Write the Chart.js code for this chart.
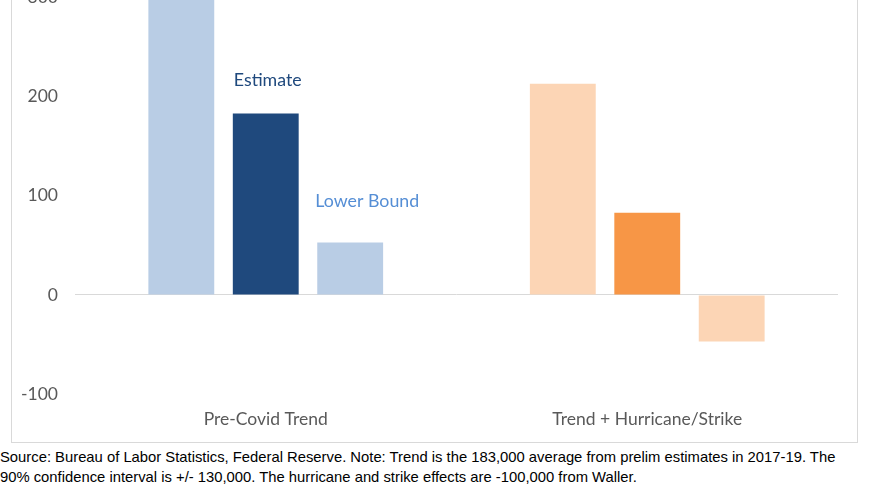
<!DOCTYPE html>
<html>
<head>
<meta charset="utf-8">
<script src="https://cdn.jsdelivr.net/npm/chart.js@4"></script>
<style>
  html, body { margin: 0; padding: 0; background: #fff; width: 870px; height: 492px; overflow: hidden; position: relative; }
  #box { position: absolute; left: 11px; top: -130px; width: 845px; height: 571px; border: 1px solid #D9D9D9; }
  #note { position: absolute; left: 0; top: 447px; width: 870px; font-family: "Liberation Sans", Arial, sans-serif; font-size: 14.8px; line-height: 20px; color: #000; white-space: nowrap; }
</style>
</head>
<body>
<div id="box"><canvas id="c"></canvas></div>
<div id="note">Source: Bureau of Labor Statistics, Federal Reserve. Note: Trend is the 183,000 average from prelim estimates in 2017-19. The<br>90% confidence interval is +/- 130,000. The hurricane and strike effects are -100,000 from Waller.</div>
<script>
const categories = ['Pre-Covid Trend', 'Trend + Hurricane/Strike'];
const upperBound = [313, 213];
const estimate = [183, 83];
const lowerBound = [53, -47];
const yTicks = [-100, 0, 100, 200, 300, 400];

const lightColors = ['#B9CDE5', '#FCD5B5'];
const darkColors = ['#1F497D', '#F79646'];

const notes = {
  id: 'notes',
  afterDatasetsDraw(chart) {
    const ctx = chart.ctx;
    ctx.save();
    ctx.font = '17.8px Lato, "Open Sans", sans-serif';
    ctx.textAlign = 'left';
    ctx.textBaseline = 'middle';
    const est = chart.getDatasetMeta(1).data[0];
    ctx.fillStyle = '#1F497D';
    ctx.fillText('Estimate', est.x - est.width / 2 + 1, est.y - 33);
    const low = chart.getDatasetMeta(2).data[0];
    ctx.fillStyle = '#558ED5';
    ctx.fillText('Lower Bound', low.x - low.width / 2 - 2, low.y - 41);
    ctx.restore();
  }
};

new Chart(document.getElementById('c'), {
  type: 'bar',
  data: {
    labels: categories,
    datasets: [
      { label: 'Upper Bound', data: upperBound, backgroundColor: lightColors },
      { label: 'Estimate', data: estimate, backgroundColor: darkColors },
      { label: 'Lower Bound', data: lowerBound, backgroundColor: lightColors }
    ]
  },
  options: {
    responsive: true,
    maintainAspectRatio: false,
    animation: false,
    categoryPercentage: 0.664,
    barPercentage: 0.78,
    layout: { padding: { top: 16, right: 19, left: 0, bottom: 0 } },
    plugins: { legend: { display: false }, tooltip: { enabled: false } },
    scales: {
      x: {
        grid: { display: false, drawTicks: false },
        border: { display: false },
        ticks: { color: '#595959', font: { family: 'Lato, "Open Sans", sans-serif', size: 17.5 }, padding: 15 },
        afterFit(s) { s.height = 48; }
      },
      y: {
        min: -100, max: 400,
        afterBuildTicks(s) { s.ticks = yTicks.map(v => ({ value: v })); },
        grid: {
          drawTicks: false,
          color: c => (c.tick && c.tick.value === 0) ? '#D9D9D9' : 'rgba(0,0,0,0)',
          lineWidth: 1
        },
        border: { display: false },
        ticks: { color: '#595959', font: { family: 'Lato, "Open Sans", sans-serif', size: 17.5 }, padding: 17 },
        afterFit(s) { s.width = 63; }
      }
    }
  },
  plugins: [notes]
});
</script>
</body>
</html>
